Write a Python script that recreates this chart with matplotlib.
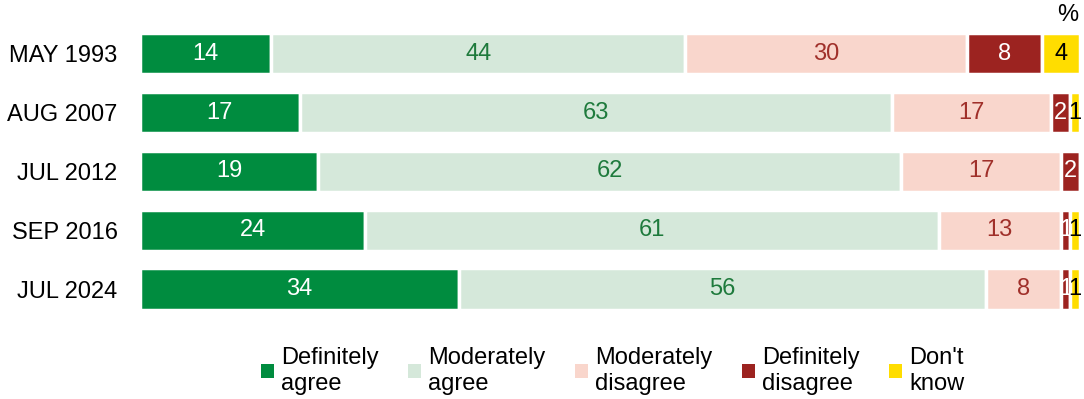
import numpy as np
import matplotlib.pyplot as plt
from matplotlib.patches import Patch

plt.rcParams['font.family'] = ['Liberation Sans', 'DejaVu Sans']

# survey waves, top to bottom
waves = ["MAY 1993", "AUG 2007", "JUL 2012", "SEP 2016", "JUL 2024"]
definitely_agree = [14, 17, 19, 24, 34]
moderately_agree = [44, 63, 62, 61, 56]
moderately_disagree = [30, 17, 17, 13, 8]
definitely_disagree = [8, 2, 2, 1, 1]
dont_know = [4, 1, 0, 1, 1]

series = [definitely_agree, moderately_agree, moderately_disagree,
          definitely_disagree, dont_know]
names = ["Definitely\nagree", "Moderately\nagree", "Moderately\ndisagree",
         "Definitely\ndisagree", "Don't\nknow"]
colors = ["#008c3f", "#d5e8da", "#f9d6cc", "#9c2320", "#ffdd00"]
text_colors = ["white", "#1e7a3c", "#a0302a", "white", "black"]

fig = plt.figure(figsize=(10.84, 3.99), dpi=100)
ax = fig.add_axes([0.129, 0.2018, 0.867, 0.737])

y = np.arange(len(waves))
left = np.zeros(len(waves))
for vals, col, tcol in zip(series, colors, text_colors):
    vals = np.array(vals, dtype=float)
    ax.barh(y, vals, left=left, height=0.7, color=col,
            edgecolor="white", linewidth=2.5)
    for yi, (l, v) in enumerate(zip(left, vals)):
        if v > 0:
            ax.text(l + v / 2, yi, f"{int(v)}", ha="center", va="center",
                    color=tcol, fontsize=17)
    left += vals

ax.set_xlim(0, 100)
ax.set_ylim(4.5, -0.5)
ax.set_yticks(y)
ax.set_yticklabels(waves, fontsize=17)
ax.tick_params(axis="y", length=0, pad=16)
ax.set_xticks([])
for s in ax.spines.values():
    s.set_visible(False)

fig.text(0.985, 0.99, "%", ha="center", va="top", fontsize=17)

handles = [Patch(facecolor=c, edgecolor="none") for c in colors]
fig.legend(handles, names, loc="center", bbox_to_anchor=(0.565, 0.07),
           ncol=5, frameon=False, fontsize=17, handlelength=0.55,
           handleheight=0.55, handletextpad=0.3, columnspacing=1.25,
           labelspacing=0.1)

fig.savefig("out.png", dpi=100)
